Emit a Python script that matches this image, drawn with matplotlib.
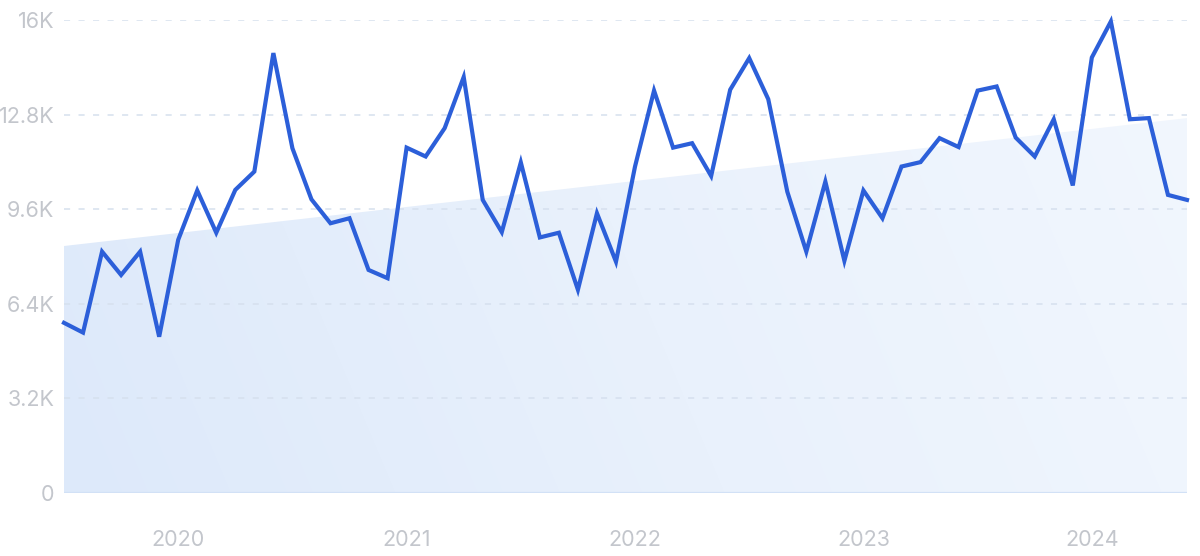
import numpy as np
import matplotlib
matplotlib.use("Agg")
import matplotlib.pyplot as plt
from matplotlib.colors import LinearSegmentedColormap
from matplotlib.patches import Polygon

# monthly search volume, Jul 2019 .. Jun 2024
searches = [5750, 5420, 8160, 7370, 8160, 5280, 8560, 10230, 8800, 10250,
            10870, 14880, 11660, 9930, 9120, 9290, 7540, 7260, 11680, 11380,
            12340, 14070, 9910, 8820, 11180, 8640, 8800, 6870, 9460, 7820,
            11040, 13610, 11680, 11830, 10720, 13640, 14710, 13320, 10190, 8160,
            10530, 7850, 10230, 9290, 11040, 11190, 12000, 11700, 13610, 13750,
            12020, 11380, 12640, 10400, 14730, 15950, 12640, 12680, 10080, 9910]
trend_ends = [8350, 12680]  # trend band height at first / last month
year_labels = ['2020', '2021', '2022', '2023', '2024']
year_pos = [6, 18, 30, 42, 54]
y_ticks = [0, 3200, 6400, 9600, 12800, 16000]
y_labels = ['0', '3.2K', '6.4K', '9.6K', '12.8K', '16K']

plt.rcParams['font.family'] = ['Inter', 'DejaVu Sans']

x = np.arange(len(searches))
last = len(searches) - 1

fig = plt.figure(figsize=(12, 5.56), dpi=100)
ax = fig.add_axes([64 / 1200, 1 - 492.7 / 556, (1187 - 64) / 1200, (492.7 - 20) / 556])
ax.set_xlim(0, last)
ax.set_ylim(0, 16000)

# trend band with soft gradient
poly = Polygon([(0, 0), (0, trend_ends[0]), (last, trend_ends[1]), (last, 0)],
               closed=True, facecolor='none', edgecolor='none')
ax.add_patch(poly)
gx, gy = np.meshgrid(np.linspace(0, 1, 300), np.linspace(0, 1, 150))
grad = 0.85 * gx + 0.15 * gy
cmap = LinearSegmentedColormap.from_list('band', ['#dde9fa', '#e9f1fc', '#f2f7fe'])
im = ax.imshow(grad, extent=[0, last, 0, 16000], origin='lower', aspect='auto',
               cmap=cmap, zorder=1, interpolation='bilinear')
im.set_clip_path(poly)

# grid
for t in y_ticks[1:]:
    ax.axhline(t, color='#d6e0ee', lw=1.1, dashes=(4, 5.5), zorder=2)
ax.axhline(0, color='#d2e1f6', lw=1.6, zorder=2)

ax.plot(x, searches, color='#2c5fd9', lw=3.0, solid_joinstyle='miter',
        zorder=3, clip_on=False)

ax.set_yticks(y_ticks)
ax.set_yticklabels(y_labels)
ax.set_xticks(year_pos)
ax.set_xticklabels(year_labels)
ax.tick_params(axis='both', length=0, labelsize=15.5, labelcolor='#c3c6cc')
ax.tick_params(axis='x', pad=27)
ax.tick_params(axis='y', pad=7)
for s in ax.spines.values():
    s.set_visible(False)

fig.savefig('out.png', dpi=100)
